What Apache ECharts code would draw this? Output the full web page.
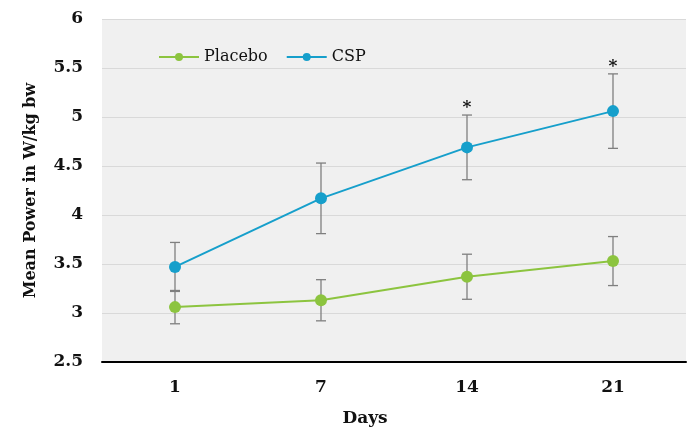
<!DOCTYPE html>
<html><head><meta charset="utf-8">
<script src="https://cdn.jsdelivr.net/npm/echarts@6/dist/echarts.min.js"></script>
<style>html,body{margin:0;padding:0;background:#fff}#c{width:687px;height:429px}</style>
</head><body><div id="c"></div>
<script>
const days = ['1','7','14','21'];
const placebo = [3.06, 3.13, 3.37, 3.53];
const placeboErr = [0.17, 0.21, 0.23, 0.25];
const csp = [3.47, 4.17, 4.69, 5.06];
const cspErr = [0.25, 0.36, 0.33, 0.38];
const cspSignificant = [false, false, true, true];
const yTicks = { min: 2.5, max: 6, interval: 0.5 };

const GREEN = '#8cc43f', BLUE = '#169fcb', ERR = '#7f7f7f';
const FONT = 'DejaVu Serif';

function errSeries(vals, errs) {
  return {
    type: 'custom', silent: true, z: 1,
    data: vals.map((v, i) => [i, v - errs[i], v + errs[i]]),
    renderItem: function (params, api) {
      const lo = api.coord([api.value(0), api.value(1)]);
      const hi = api.coord([api.value(0), api.value(2)]);
      const w = 5;
      const st = { stroke: ERR, lineWidth: 1.3 };
      return { type: 'group', children: [
        { type: 'line', shape: { x1: lo[0], y1: lo[1], x2: hi[0], y2: hi[1] }, style: st },
        { type: 'line', shape: { x1: lo[0]-w, y1: lo[1], x2: lo[0]+w, y2: lo[1] }, style: st },
        { type: 'line', shape: { x1: hi[0]-w, y1: hi[1], x2: hi[0]+w, y2: hi[1] }, style: st }
      ]};
    }
  };
}

const chart = echarts.init(document.getElementById('c'));
chart.setOption({
  animation: false,
  grid: { left: 102, right: 1, top: 19, bottom: 67, show: true, backgroundColor: '#f0f0f0', borderWidth: 0,
          outerBoundsMode: 'none', containLabel: false },
  legend: {
    left: 158, top: 49, padding: 0, itemWidth: 40, itemHeight: 10, itemGap: 18,
    textStyle: { fontFamily: FONT, fontSize: 16, color: '#111' },
    data: ['Placebo', 'CSP']
  },
  xAxis: {
    type: 'category', data: days, boundaryGap: true,
    name: 'Days', nameLocation: 'middle', nameGap: 48,
    nameTextStyle: { fontFamily: FONT, fontWeight: 'bold', fontSize: 17, color: '#111', padding: [0, 58, 0, 0] },
    axisLine: { lineStyle: { color: '#000', width: 2 } },
    axisTick: { show: false },
    axisLabel: { fontFamily: FONT, fontWeight: 'bold', fontSize: 17, color: '#111', margin: 17 }
  },
  yAxis: {
    type: 'value', min: yTicks.min, max: yTicks.max, interval: yTicks.interval,
    name: 'Mean Power in W/kg bw', nameLocation: 'middle', nameGap: 63,
    nameTextStyle: { fontFamily: FONT, fontWeight: 'bold', fontSize: 16, color: '#111' },
    axisLine: { show: false }, axisTick: { show: false },
    axisLabel: { fontFamily: FONT, fontWeight: 'bold', fontSize: 17, color: '#111', margin: 19 },
    splitLine: { lineStyle: { color: '#d9d9d9', width: 1.2 } }
  },
  series: [
    errSeries(placebo, placeboErr),
    errSeries(csp, cspErr),
    { name: 'Placebo', type: 'line', data: placebo, z: 3, symbol: 'circle', symbolSize: 12,
      lineStyle: { color: GREEN, width: 2 }, itemStyle: { color: GREEN } },
    { name: 'CSP', type: 'line', data: csp, z: 3, symbol: 'circle', symbolSize: 12,
      lineStyle: { color: BLUE, width: 2 }, itemStyle: { color: BLUE } },
    { type: 'custom', silent: true, z: 4,
      data: csp.map((v, i) => [i, v + cspErr[i], cspSignificant[i] ? 1 : 0]),
      renderItem: function (params, api) {
        if (!api.value(2)) return null;
        const p = api.coord([api.value(0), api.value(1)]);
        return { type: 'text', style: { text: '*', x: p[0], y: p[1] - 7, align: 'center', verticalAlign: 'middle',
          font: 'bold 17px ' + FONT, fill: '#111' } };
      }
    }
  ]
});
</script></body></html>
